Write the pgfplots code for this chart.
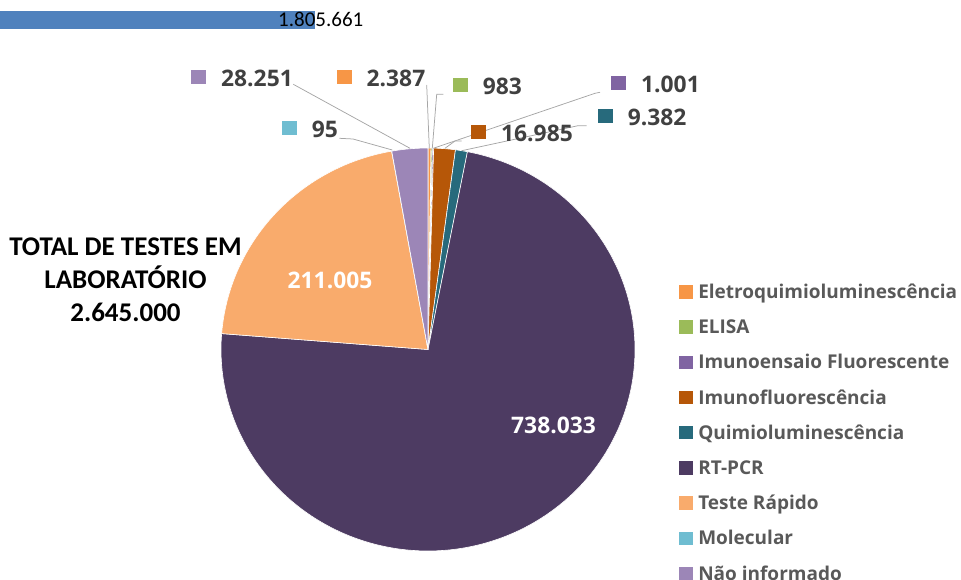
\documentclass[border=0pt]{standalone}
\usepackage{fontspec}
\setmainfont{Open Sans}
\newfontfamily\calibri{Carlito}
\usepackage{pgfplots}
\usepackage{pgfplotstable}
\pgfplotsset{compat=1.18}
\definecolor{cEletro}{HTML}{F79646}
\definecolor{cElisa}{HTML}{9BBB59}
\definecolor{cImunoFl}{HTML}{8064A2}
\definecolor{cImunofluo}{HTML}{B65708}
\definecolor{cQuimio}{HTML}{276A7C}
\definecolor{cRT}{HTML}{4D3B62}
\definecolor{cTeste}{HTML}{F9AB6C}
\definecolor{cMolec}{HTML}{6FBDD1}
\definecolor{cNao}{HTML}{9C86B7}
\definecolor{barblue}{HTML}{4F81BD}
\definecolor{labtext}{HTML}{404040}
\definecolor{legtext}{HTML}{595959}
\definecolor{leader}{HTML}{A6A6A6}

\pgfplotstableread[col sep=comma]{
name,value,color
Eletroquimioluminescência,2387,cEletro
ELISA,983,cElisa
Imunoensaio Fluorescente,1001,cImunoFl
Imunofluorescência,16985,cImunofluo
Quimioluminescência,9382,cQuimio
RT-PCR,738033,cRT
Teste Rápido,211005,cTeste
Molecular,95,cMolec
Não informado,28251,cNao
}\pietable

\newcommand\labfont{\bfseries\fontsize{22.8bp}{26bp}\selectfont}
\newcommand\lab[3]{\textcolor{#1}{\raisebox{2.7bp}{\rule{15bp}{14bp}}}\hspace{15bp}#2}

\begin{document}
\begin{tikzpicture}
\useasboundingbox (0,0) rectangle (961bp,580bp);
\begin{axis}[
  at={(0,0)}, anchor=south west,
  width=961bp, height=580bp, scale only axis,
  xmin=0, xmax=961, ymin=0, ymax=580,
  hide axis, clip=false,
  legend cell align=left,
  legend style={draw=none, fill=none, inner sep=0pt, anchor=north west,
    at={(0.7066,0.5098)}, row sep=17.2bp, column sep=5bp,
    nodes={inner sep=0pt, text height=14bp, text depth=4bp},
    font=\bfseries\fontsize{19bp}{22bp}\selectfont, text=legtext},
  legend image code/.code={\fill[#1,draw=none] (0bp,-5bp) rectangle (14bp,8.3bp);},
]
% partial bar from the chart above
\addplot[xbar, bar width=18bp, fill=barblue, draw=none, forget plot] coordinates {(315,560)};
\node[anchor=base west, inner sep=0pt, font=\calibri\fontsize{21bp}{24bp}\selectfont] at (278,553.3) {1.805.661};

% pie total
\pgfplotstablegetrowsof{\pietable}
\pgfmathtruncatemacro\nrows{\pgfplotsretval-1}
\def\total{0}
\pgfplotsforeachungrouped \i in {0,...,\nrows}{%
  \pgfplotstablegetelem{\i}{value}\of\pietable
  \edef\total{\fpeval{\total+\pgfplotsretval}}%
}
\def\cum{0}
\pgfplotsforeachungrouped \i in {0,...,\nrows}{%
  \pgfplotstablegetelem{\i}{value}\of\pietable \let\v\pgfplotsretval
  \pgfplotstablegetelem{\i}{color}\of\pietable \let\c\pgfplotsretval
  \pgfplotstablegetelem{\i}{name}\of\pietable \let\n\pgfplotsretval
  \edef\astart{\fpeval{90-360*\cum/\total}}%
  \edef\cum{\fpeval{\cum+\v}}%
  \edef\aend{\fpeval{90-360*\cum/\total}}%
  \edef\ns{\fpeval{max(3,ceil((\astart-\aend)/1.5))}}%
  \edef\cmd{\noexpand\addplot[fill=\c, draw=white, line width=0.6bp, domain=\aend:\astart, samples=\ns]
    ({428+207*cos(x)},{230.5+201.5*sin(x)}) -- (428,230.5) -- cycle;
    \noexpand\addlegendentry{\n}}%
  \cmd
}

% leader lines
\begin{scope}[draw=leader, line width=0.75bp]
\draw (293.3,495.7) -- (410,431.7);
\draw (339.3,441.7) -- (353,441) -- (392.3,430);
\draw (426.7,495) -- (429.3,431.7);
\draw (443.3,485.7) -- (436.7,485.7) -- (432.3,431.7);
\draw (600,487.7) -- (595,486.7) -- (433.3,431.7);
\draw (461.7,439) -- (455,439) -- (445,431.7);
\draw (586.7,454.3) -- (578,454.3) -- (461.7,429.3);
\end{scope}

% data labels
\begin{scope}[every node/.style={anchor=base west, inner sep=0pt, font=\labfont, text=labtext}]
\node at (191,493.3) {\lab{cNao}{28.251}{}};
\node at (336.5,493) {\lab{cEletro}{2.387}{}};
\node at (452.7,485) {\lab{cElisa}{983}{}};
\node at (611,487) {\lab{cImunoFl}{1.001}{}};
\node at (597.7,454) {\lab{cQuimio}{9.382}{}};
\node at (471,438) {\lab{cImunofluo}{16.985}{}};
\node at (281.7,442) {\lab{cMolec}{95}{}};
\end{scope}
\node[inner sep=0pt, font=\labfont, text=white] at (330,300) {211.005};
\node[inner sep=0pt, font=\labfont, text=white] at (553.5,154.5) {738.033};

% side annotation
\begin{scope}[every node/.style={anchor=base, inner sep=0pt, font=\calibri\bfseries\fontsize{27bp}{30bp}\selectfont, text=black}]
\node at (125.5,324.3) {TOTAL DE TESTES EM};
\node at (125.5,291.7) {LABORATÓRIO};
\node at (125.5,258.3) {2.645.000};
\end{scope}
\end{axis}
\end{tikzpicture}
\end{document}
